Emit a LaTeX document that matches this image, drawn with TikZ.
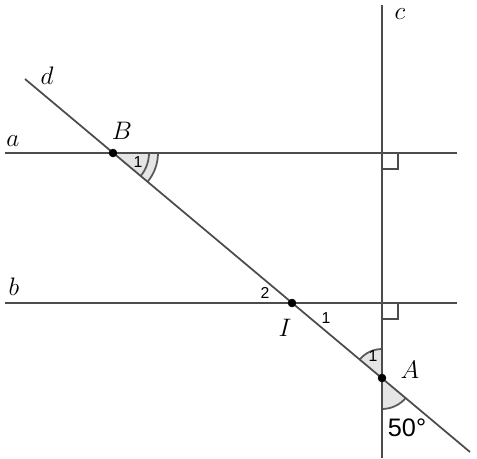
\documentclass[tikz,border=0pt]{standalone}
\usepackage{fontspec}
\newfontfamily\numfont{Liberation Sans}
\usetikzlibrary{angles, calc}

\tikzset{
    ln/.style={draw=black!70, line width=1pt},
    ang/.style={draw=black!65, line width=1pt, fill=black!10},
    arcline/.style={draw=black!65, line width=1pt},
    lbl/.style={font=\Large},
    num/.style={font=\numfont\small},
}

\begin{document}
\begin{tikzpicture}[x=0.02cm, y=-0.02cm]
        \useasboundingbox (0,0) rectangle (477,458);
        % points
        \coordinate (B) at (113,153);
        \coordinate (I) at (292,303);
        \coordinate (A) at (382,378);
        \coordinate (a1) at (5,153);
        \coordinate (a2) at (457,153);
        \coordinate (b1) at (5,303);
        \coordinate (b2) at (457,303);
        \coordinate (c1) at (382,5);
        \coordinate (c2) at (382,458);
        \coordinate (d1) at (25,79);
        \coordinate (d2) at (470,452);
        \coordinate (Ca) at (382,153);
        \coordinate (Cb) at (382,303);

        % angles
        \pic[ang, angle radius=0.9cm] {angle = A--B--a2};
        \pic[arcline, angle radius=0.72cm] {angle = A--B--a2};
        \pic[ang, angle radius=0.58cm] {angle = c1--A--B};
        \pic[ang, angle radius=0.62cm] {angle = c2--A--d2};

        % lines
        \draw[ln] (a1)--(a2);
        \draw[ln] (b1)--(b2);
        \draw[ln] (c1)--(c2);
        \draw[ln] (d1)--(d2);

        % right angles
        \draw[ln] ($(Ca)+(0,16)$)--++(16,0)--++(0,-16);
        \draw[ln] ($(Cb)+(0,16)$)--++(16,0)--++(0,-16);

        % labels
        \node[lbl] (la) at (13,141) {$a$};
        \node[lbl] (lb) at (14,287) {$b$};
        \node[lbl] (lc) at (400,14) {$c$};
        \node[lbl] (ld) at (47,76) {$d$};
        \node[lbl] (lB) at (122,131) {$B$};
        \node[lbl] (lI) at (285,328) {$I$};
        \node[lbl] (lA) at (410,370) {$A$};
        \node[num] (n1) at (138,162) {1};
        \node[num] (n2) at (265,293) {2};
        \node[num] (n3) at (326,318) {1};
        \node[num] (n4) at (373,356) {1};
        \node[font=\numfont\Large] (deg) at (407,428) {50°};

        \draw[fill=black] (B) circle (2.2pt);
        \draw[fill=black] (I) circle (2.2pt);
        \draw[fill=black] (A) circle (2.2pt);
    \end{tikzpicture}
\end{document}
